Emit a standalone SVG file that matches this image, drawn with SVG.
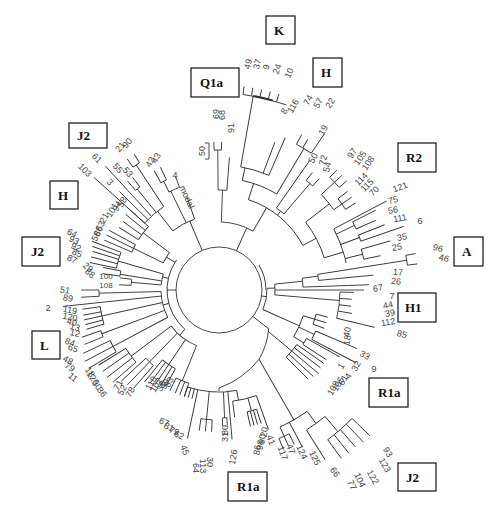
<svg xmlns="http://www.w3.org/2000/svg" width="500" height="522" viewBox="0 0 500 522">
<style>
.tr line,.tr circle,.tr path{stroke:#333;stroke-width:0.9;fill:none}
.lf{font-family:"Liberation Sans",Arial,sans-serif;font-size:9px;fill:#444;text-anchor:middle}
.bx rect{fill:#fff;stroke:#222;stroke-width:1.3}
.bx text{font-family:"Liberation Serif","Times New Roman",serif;font-weight:bold;font-size:13px;fill:#111}
</style>
<rect width="500" height="522" fill="#fff"/>
<g id="connectors" class="tr" transform="translate(219,290)">
<circle r="43"/>
<line x1="43" x2="68" transform="rotate(-66)"/>
<circle r="68" stroke-dasharray="33.23 3000" transform="rotate(-88)"/>
<line x1="68" x2="100" transform="rotate(-88)"/>
<circle r="100" stroke-dasharray="8.73 3000" transform="rotate(-90.5)"/>
<line x1="100" x2="140" transform="rotate(-90.5)"/>
<circle r="140" stroke-dasharray="7.33 3000" transform="rotate(-92)"/>
<line x1="140" x2="148" transform="rotate(-92)"/>
<line x1="140" x2="148" transform="rotate(-89)"/>
<line x1="100" x2="133" transform="rotate(-85.5)"/>
<line x1="68" x2="95" transform="rotate(-60)"/>
<circle r="95" stroke-dasharray="72.95 3000" transform="rotate(-72)"/>
<line x1="95" x2="112" transform="rotate(-72)"/>
<circle r="112" stroke-dasharray="37.14 3000" transform="rotate(-78)"/>
<line x1="112" x2="125" transform="rotate(-78)"/>
<circle r="125" stroke-dasharray="29.45 3000" transform="rotate(-80)"/>
<line x1="125" x2="197" transform="rotate(-80)"/>
<circle r="197" stroke-dasharray="44.7 3000" transform="rotate(-83)"/>
<circle r="197" stroke-dasharray="20 3000" transform="rotate(-80)" style="stroke-width:2"/>
<line x1="197" x2="205" transform="rotate(-83)"/>
<line x1="197" x2="205" transform="rotate(-80.5)"/>
<line x1="197" x2="205" transform="rotate(-78)"/>
<line x1="197" x2="205" transform="rotate(-75.5)"/>
<line x1="197" x2="205" transform="rotate(-73)"/>
<line x1="125" x2="158" transform="rotate(-69.3)"/>
<line x1="125" x2="166" transform="rotate(-66.5)"/>
<line x1="112" x2="165" transform="rotate(-59)"/>
<circle r="165" stroke-dasharray="17.28 3000" transform="rotate(-62)"/>
<line x1="165" x2="176" transform="rotate(-62)"/>
<line x1="165" x2="175" transform="rotate(-59.5)"/>
<line x1="165" x2="188" transform="rotate(-56)"/>
<line x1="95" x2="100" transform="rotate(-52)"/>
<circle r="100" stroke-dasharray="9.6 3000" transform="rotate(-55)"/>
<line x1="100" x2="158" transform="rotate(-55)"/>
<line x1="100" x2="140" transform="rotate(-49.5)"/>
<circle r="140" stroke-dasharray="8.55 3000" transform="rotate(-51.5)"/>
<line x1="140" x2="150" transform="rotate(-51.5)"/>
<line x1="140" x2="150" transform="rotate(-48)"/>
<line x1="95" x2="110" transform="rotate(-28)"/>
<circle r="110" stroke-dasharray="40.32 3000" transform="rotate(-38)"/>
<line x1="110" x2="140" transform="rotate(-38)"/>
<circle r="140" stroke-dasharray="19.55 3000" transform="rotate(-43)"/>
<line x1="140" x2="158" transform="rotate(-43)"/>
<circle r="158" stroke-dasharray="13.79 3000" transform="rotate(-45.5)"/>
<line x1="158" x2="168" transform="rotate(-45.5)"/>
<line x1="158" x2="168" transform="rotate(-43)"/>
<line x1="158" x2="168" transform="rotate(-40.5)"/>
<line x1="140" x2="150" transform="rotate(-35)"/>
<circle r="150" stroke-dasharray="13.09 3000" transform="rotate(-37.5)"/>
<line x1="150" x2="162" transform="rotate(-37.5)"/>
<line x1="150" x2="162" transform="rotate(-35)"/>
<line x1="150" x2="162" transform="rotate(-32.5)"/>
<line x1="110" x2="130" transform="rotate(-17)"/>
<circle r="130" stroke-dasharray="36.3 3000" transform="rotate(-28)"/>
<line x1="130" x2="190" transform="rotate(-28)"/>
<line x1="130" x2="150" transform="rotate(-25.5)"/>
<circle r="150" stroke-dasharray="7.85 3000" transform="rotate(-27)"/>
<line x1="150" x2="176" transform="rotate(-27)"/>
<line x1="150" x2="172" transform="rotate(-24)"/>
<line x1="130" x2="150" transform="rotate(-20.5)"/>
<circle r="150" stroke-dasharray="6.54 3000" transform="rotate(-21.5)"/>
<line x1="150" x2="178" transform="rotate(-21.5)"/>
<line x1="150" x2="195" transform="rotate(-19)"/>
<line x1="130" x2="148" transform="rotate(-14)"/>
<circle r="148" stroke-dasharray="10.33 3000" transform="rotate(-16)"/>
<line x1="148" x2="178" transform="rotate(-16)"/>
<line x1="148" x2="165" transform="rotate(-12)"/>
<circle r="47" stroke-dasharray="26.25 3000" transform="rotate(-32)"/>
<line x1="43" x2="48" transform="rotate(8)"/>
<circle r="48" stroke-dasharray="21.78 3000" transform="rotate(-2)"/>
<line x1="48" x2="56" transform="rotate(-2)"/>
<circle r="56" stroke-dasharray="10.75 3000" transform="rotate(-6)"/>
<line x1="56" x2="84" transform="rotate(-6)"/>
<circle r="84" stroke-dasharray="8.8 3000" transform="rotate(-8)"/>
<line x1="84" x2="150" transform="rotate(-2)"/>
<line x1="84" x2="100" transform="rotate(-8)"/>
<circle r="100" stroke-dasharray="6.11 3000" transform="rotate(-9)"/>
<line x1="100" x2="155" transform="rotate(-5.5)"/>
<line x1="100" x2="190" transform="rotate(-9)"/>
<circle r="190" stroke-dasharray="9.95 3000" transform="rotate(-10.5)"/>
<line x1="190" x2="200" transform="rotate(-10.5)"/>
<line x1="190" x2="200" transform="rotate(-7.5)"/>
<line x1="56" x2="145" transform="rotate(0)"/>
<line x1="56" x2="121" transform="rotate(5)"/>
<circle r="121" stroke-dasharray="26.4 3000" transform="rotate(1)"/>
<line x1="121" x2="135" transform="rotate(1)"/>
<line x1="121" x2="133" transform="rotate(4)"/>
<line x1="121" x2="133" transform="rotate(7)"/>
<line x1="121" x2="135" transform="rotate(10)"/>
<line x1="121" x2="160" transform="rotate(13.5)"/>
<line x1="48" x2="88" transform="rotate(24)"/>
<circle r="88" stroke-dasharray="23.04 3000" transform="rotate(17)"/>
<line x1="88" x2="100" transform="rotate(17)"/>
<circle r="100" stroke-dasharray="10.47 3000" transform="rotate(14)"/>
<line x1="100" x2="112" transform="rotate(14)"/>
<line x1="100" x2="112" transform="rotate(17)"/>
<line x1="100" x2="112" transform="rotate(20)"/>
<line x1="88" x2="105" transform="rotate(25)"/>
<circle r="105" stroke-dasharray="9.16 3000" transform="rotate(23)"/>
<line x1="105" x2="150" transform="rotate(23)"/>
<line x1="105" x2="155" transform="rotate(28)"/>
<line x1="88" x2="100" transform="rotate(32)"/>
<circle r="100" stroke-dasharray="6.98 3000" transform="rotate(29)"/>
<line x1="100" x2="138" transform="rotate(29)"/>
<line x1="100" x2="128" transform="rotate(33)"/>
<line x1="43" x2="63" transform="rotate(38)"/>
<path d="M49.65,38.79 A71,71 0 0 1 40,69.28 A89,89 0 0 1 0,98"/>
<line x1="64" x2="95" transform="rotate(40)"/>
<circle r="95" stroke-dasharray="16.58 3000" transform="rotate(35)"/>
<line x1="95" x2="128" transform="rotate(35)"/>
<line x1="95" x2="128" transform="rotate(37.5)"/>
<line x1="95" x2="130" transform="rotate(40)"/>
<line x1="95" x2="128" transform="rotate(42.5)"/>
<line x1="95" x2="126" transform="rotate(45)"/>
<line x1="80" x2="150" transform="rotate(60)"/>
<circle r="150" stroke-dasharray="31.42 3000" transform="rotate(54)"/>
<line x1="150" x2="160" transform="rotate(66)"/>
<circle r="160" stroke-dasharray="11.17 3000" transform="rotate(64)"/>
<line x1="160" x2="172" transform="rotate(64)"/>
<line x1="160" x2="170" transform="rotate(66)"/>
<line x1="160" x2="172" transform="rotate(68)"/>
<line x1="150" x2="178" transform="rotate(62)"/>
<line x1="150" x2="165" transform="rotate(54)"/>
<circle r="165" stroke-dasharray="23.04 3000" transform="rotate(50)"/>
<line x1="165" x2="200" transform="rotate(58)"/>
<line x1="165" x2="185" transform="rotate(50)"/>
<circle r="185" stroke-dasharray="32.29 3000" transform="rotate(44)"/>
<line x1="185" x2="208" transform="rotate(54)"/>
<line x1="185" x2="208" transform="rotate(51.5)"/>
<line x1="185" x2="208" transform="rotate(49)"/>
<line x1="185" x2="210" transform="rotate(46.5)"/>
<line x1="185" x2="210" transform="rotate(44)"/>
<line x1="98" x2="102" transform="rotate(90)"/>
<circle r="102" stroke-dasharray="49.85 3000" transform="rotate(80)"/>
<circle r="102" stroke-dasharray="9 3000" transform="rotate(86)" style="stroke:#aaa;stroke-width:2.2"/>
<line x1="102" x2="112" transform="rotate(80)"/>
<circle r="112" stroke-dasharray="24.43 3000" transform="rotate(70.5)"/>
<line x1="112" x2="128" transform="rotate(83)"/>
<line x1="112" x2="148" transform="rotate(70.5)"/>
<line x1="112" x2="125" transform="rotate(75)"/>
<circle r="125" stroke-dasharray="9.82 3000" transform="rotate(72.5)"/>
<line x1="125" x2="140" transform="rotate(72.5)"/>
<line x1="125" x2="140" transform="rotate(74)"/>
<line x1="125" x2="140" transform="rotate(75.5)"/>
<line x1="125" x2="140" transform="rotate(77)"/>
<line x1="102" x2="150" transform="rotate(85)"/>
<line x1="102" x2="128" transform="rotate(87.5)"/>
<circle r="128" stroke-dasharray="4.47 3000" transform="rotate(86.5)"/>
<line x1="128" x2="136" transform="rotate(86.5)"/>
<line x1="128" x2="136" transform="rotate(88.5)"/>
<line x1="102" x2="130" transform="rotate(95.5)"/>
<circle r="130" stroke-dasharray="11.34 3000" transform="rotate(93)"/>
<line x1="130" x2="142" transform="rotate(93)"/>
<line x1="130" x2="142" transform="rotate(95.5)"/>
<line x1="130" x2="142" transform="rotate(98)"/>
<line x1="102" x2="152" transform="rotate(102)"/>
<line x1="102" x2="112" transform="rotate(104)"/>
<line x1="102" x2="112" transform="rotate(106)"/>
<line x1="102" x2="112" transform="rotate(108)"/>
<line x1="43" x2="52" transform="rotate(180)"/>
<circle r="52" stroke-dasharray="76.24 3000" transform="rotate(131)"/>
<line x1="52" x2="60" transform="rotate(131)"/>
<circle r="60" stroke-dasharray="32.46 3000" transform="rotate(112)"/>
<line x1="60" x2="98" transform="rotate(112)"/>
<circle r="98" stroke-dasharray="13.68 3000" transform="rotate(108)"/>
<line x1="98" x2="112" transform="rotate(108)"/>
<line x1="98" x2="112" transform="rotate(110.5)"/>
<line x1="98" x2="112" transform="rotate(113)"/>
<line x1="98" x2="112" transform="rotate(116)"/>
<line x1="60" x2="90" transform="rotate(124)"/>
<circle r="90" stroke-dasharray="15.71 3000" transform="rotate(119)"/>
<line x1="90" x2="110" transform="rotate(119)"/>
<line x1="90" x2="112" transform="rotate(121.5)"/>
<line x1="90" x2="114" transform="rotate(124)"/>
<line x1="90" x2="116" transform="rotate(126.5)"/>
<line x1="90" x2="118" transform="rotate(129)"/>
<line x1="60" x2="100" transform="rotate(134)"/>
<circle r="100" stroke-dasharray="10.47 3000" transform="rotate(131)"/>
<line x1="100" x2="130" transform="rotate(131)"/>
<line x1="100" x2="132" transform="rotate(134)"/>
<line x1="100" x2="134" transform="rotate(137)"/>
<line x1="60" x2="110" transform="rotate(143)"/>
<circle r="110" stroke-dasharray="17.28 3000" transform="rotate(139)"/>
<line x1="110" x2="140" transform="rotate(139)"/>
<line x1="110" x2="142" transform="rotate(142)"/>
<line x1="110" x2="142" transform="rotate(145)"/>
<line x1="110" x2="142" transform="rotate(148)"/>
<line x1="52" x2="58" transform="rotate(165)"/>
<circle r="58" stroke-dasharray="26.83 3000" transform="rotate(152)"/>
<line x1="58" x2="120" transform="rotate(152)"/>
<circle r="120" stroke-dasharray="12.57 3000" transform="rotate(149)"/>
<line x1="120" x2="152" transform="rotate(149)"/>
<line x1="120" x2="152" transform="rotate(152)"/>
<line x1="120" x2="150" transform="rotate(155)"/>
<line x1="58" x2="125" transform="rotate(159.5)"/>
<circle r="125" stroke-dasharray="6.54 3000" transform="rotate(158)"/>
<line x1="125" x2="145" transform="rotate(158)"/>
<line x1="125" x2="145" transform="rotate(161)"/>
<line x1="58" x2="120" transform="rotate(167.5)"/>
<circle r="120" stroke-dasharray="17.8 3000" transform="rotate(163.5)"/>
<line x1="120" x2="138" transform="rotate(163.5)"/>
<line x1="120" x2="138" transform="rotate(165.5)"/>
<line x1="120" x2="138" transform="rotate(167.5)"/>
<line x1="120" x2="138" transform="rotate(169.5)"/>
<line x1="120" x2="138" transform="rotate(172)"/>
<line x1="58" x2="157" transform="rotate(174)"/>
<line x1="58" x2="120" transform="rotate(178.5)"/>
<circle r="120" stroke-dasharray="6.28 3000" transform="rotate(177)"/>
<line x1="120" x2="138" transform="rotate(177)"/>
<line x1="120" x2="138" transform="rotate(180)"/>
<line x1="52" x2="58" transform="rotate(193)"/>
<circle r="58" stroke-dasharray="11.14 3000" transform="rotate(185)"/>
<line x1="58" x2="88" transform="rotate(185)"/>
<circle r="88" stroke-dasharray="6.14 3000" transform="rotate(183)"/>
<line x1="88" x2="100" transform="rotate(183)"/>
<line x1="88" x2="100" transform="rotate(187)"/>
<line x1="58" x2="100" transform="rotate(189)"/>
<circle r="100" stroke-dasharray="5.24 3000" transform="rotate(188)"/>
<line x1="100" x2="118" transform="rotate(188)"/>
<line x1="100" x2="118" transform="rotate(191)"/>
<line x1="58" x2="105" transform="rotate(196)"/>
<circle r="105" stroke-dasharray="16.49 3000" transform="rotate(192)"/>
<line x1="105" x2="132" transform="rotate(192)"/>
<line x1="105" x2="132" transform="rotate(194.5)"/>
<line x1="105" x2="132" transform="rotate(197)"/>
<line x1="105" x2="134" transform="rotate(199)"/>
<line x1="105" x2="136" transform="rotate(201)"/>
<line x1="52" x2="62" transform="rotate(212)"/>
<circle r="62" stroke-dasharray="11.9 3000" transform="rotate(206)"/>
<line x1="62" x2="95" transform="rotate(206)"/>
<circle r="95" stroke-dasharray="8.29 3000" transform="rotate(203.5)"/>
<line x1="95" x2="125" transform="rotate(203.5)"/>
<line x1="95" x2="125" transform="rotate(206)"/>
<line x1="95" x2="125" transform="rotate(208.5)"/>
<line x1="62" x2="95" transform="rotate(217)"/>
<circle r="95" stroke-dasharray="16.58 3000" transform="rotate(212)"/>
<line x1="95" x2="118" transform="rotate(212)"/>
<line x1="95" x2="118" transform="rotate(215.5)"/>
<line x1="95" x2="120" transform="rotate(219)"/>
<line x1="95" x2="120" transform="rotate(222)"/>
<line x1="43" x2="75" transform="rotate(247)"/>
<circle r="75" stroke-dasharray="24.87 3000" transform="rotate(232)"/>
<line x1="75" x2="98" transform="rotate(251)"/>
<line x1="75" x2="110" transform="rotate(244)"/>
<circle r="110" stroke-dasharray="11.52 3000" transform="rotate(243)"/>
<line x1="110" x2="122" transform="rotate(249)"/>
<line x1="110" x2="122" transform="rotate(243)"/>
<circle r="122" stroke-dasharray="6.39 3000" transform="rotate(241.5)"/>
<line x1="122" x2="136" transform="rotate(241.5)"/>
<line x1="122" x2="136" transform="rotate(244.5)"/>
<line x1="75" x2="100" transform="rotate(232)"/>
<circle r="100" stroke-dasharray="25.31 3000" transform="rotate(222)"/>
<line x1="100" x2="150" transform="rotate(236.5)"/>
<circle r="150" stroke-dasharray="7.85 3000" transform="rotate(235)"/>
<line x1="150" x2="160" transform="rotate(235)"/>
<line x1="150" x2="160" transform="rotate(238)"/>
<line x1="100" x2="130" transform="rotate(231)"/>
<circle r="130" stroke-dasharray="5.67 3000" transform="rotate(230)"/>
<line x1="130" x2="142" transform="rotate(230)"/>
<line x1="130" x2="142" transform="rotate(232.5)"/>
<line x1="100" x2="168" transform="rotate(227.5)"/>
<line x1="100" x2="140" transform="rotate(224.7)"/>
<line x1="100" x2="168" transform="rotate(222)"/>
</g>
<g id="scale-bar">
<path d="M205,143 H209 V159 H205" fill="none" stroke="#333" stroke-width="0.9"/>
<text class="lf" x="202" y="151" dy="0.35em" transform="rotate(-90 202 151)">50</text>
</g>
<g id="leaf-labels" class="lf">
<text x="216" y="114" dy="0.35em" transform="rotate(-90 216 114)">69</text>
<text x="222" y="115" dy="0.35em" transform="rotate(-90 222 115)">68</text>
<text x="231" y="128" dy="0.35em" transform="rotate(-90 231 128)">91</text>
<text x="248" y="64" dy="0.35em" transform="rotate(-75 248 64)">49</text>
<text x="257" y="64" dy="0.35em" transform="rotate(-75 257 64)">37</text>
<text x="266" y="67" dy="0.35em" transform="rotate(-75 266 67)">9</text>
<text x="277" y="69" dy="0.35em" transform="rotate(-70 277 69)">24</text>
<text x="289" y="73" dy="0.35em" transform="rotate(-65 289 73)">10</text>
<text x="284" y="111" dy="0.35em" transform="rotate(-60 284 111)">8</text>
<text x="293" y="106" dy="0.35em" transform="rotate(-60 293 106)">116</text>
<text x="308" y="100" dy="0.35em" transform="rotate(-60 308 100)">74</text>
<text x="318" y="103" dy="0.35em" transform="rotate(-60 318 103)">57</text>
<text x="330" y="103" dy="0.35em" transform="rotate(-60 330 103)">22</text>
<text x="323" y="130" dy="0.35em" transform="rotate(-60 323 130)">19</text>
<text x="313" y="158" dy="0.35em" transform="rotate(-60 313 158)">50</text>
<text x="323" y="160" dy="0.35em" transform="rotate(-75 323 160)">72</text>
<text x="327" y="167" dy="0.35em" transform="rotate(-75 327 167)">54</text>
<text x="352" y="153" dy="0.35em" transform="rotate(-55 352 153)">97</text>
<text x="360" y="158" dy="0.35em" transform="rotate(-55 360 158)">105</text>
<text x="368" y="163" dy="0.35em" transform="rotate(-55 368 163)">108</text>
<text x="361" y="179" dy="0.35em" transform="rotate(-45 361 179)">114</text>
<text x="367" y="185" dy="0.35em" transform="rotate(-45 367 185)">115</text>
<text x="374" y="191" dy="0.35em" transform="rotate(-45 374 191)">70</text>
<text x="400" y="187" dy="0.35em" transform="rotate(-20 400 187)">121</text>
<text x="393" y="200" dy="0.35em" transform="rotate(-15 393 200)">75</text>
<text x="393" y="210" dy="0.35em" transform="rotate(-10 393 210)">56</text>
<text x="400" y="218" dy="0.35em" transform="rotate(-10 400 218)">111</text>
<text x="420" y="221" dy="0.35em">6</text>
<text x="402" y="237" dy="0.35em" transform="rotate(-10 402 237)">35</text>
<text x="397" y="247" dy="0.35em" transform="rotate(-10 397 247)">25</text>
<text x="438" y="248" dy="0.35em" transform="rotate(15 438 248)">96</text>
<text x="444" y="258" dy="0.35em" transform="rotate(15 444 258)">46</text>
<text x="398" y="272" dy="0.35em" transform="rotate(5 398 272)">17</text>
<text x="396" y="281" dy="0.35em" transform="rotate(5 396 281)">26</text>
<text x="378" y="288" dy="0.35em" transform="rotate(-10 378 288)">67</text>
<text x="392" y="296" dy="0.35em">7</text>
<text x="388" y="305" dy="0.35em" transform="rotate(-10 388 305)">44</text>
<text x="390" y="313" dy="0.35em" transform="rotate(-10 390 313)">39</text>
<text x="388" y="322" dy="0.35em" transform="rotate(-10 388 322)">112</text>
<text x="402" y="334" dy="0.35em" transform="rotate(15 402 334)">85</text>
<text x="347" y="332" dy="0.35em" transform="rotate(-80 347 332)">40</text>
<text x="347" y="340" dy="0.35em" transform="rotate(-80 347 340)">18</text>
<text x="365" y="355" dy="0.35em" transform="rotate(30 365 355)">33</text>
<text x="374" y="369" dy="0.35em">9</text>
<text x="341" y="366" dy="0.35em" transform="rotate(-60 341 366)">1</text>
<text x="356" y="366" dy="0.35em" transform="rotate(-60 356 366)">32</text>
<text x="333" y="388" dy="0.35em" transform="rotate(-60 333 388)">108</text>
<text x="338" y="384" dy="0.35em" transform="rotate(-60 338 384)">105</text>
<text x="343" y="380" dy="0.35em" transform="rotate(-60 343 380)">61</text>
<text x="348" y="376" dy="0.35em" transform="rotate(-60 348 376)">4</text>
<text x="388" y="452" dy="0.35em" transform="rotate(60 388 452)">93</text>
<text x="385" y="465" dy="0.35em" transform="rotate(60 385 465)">123</text>
<text x="373" y="477" dy="0.35em" transform="rotate(60 373 477)">122</text>
<text x="360" y="480" dy="0.35em" transform="rotate(65 360 480)">104</text>
<text x="352" y="485" dy="0.35em" transform="rotate(65 352 485)">77</text>
<text x="335" y="472" dy="0.35em" transform="rotate(55 335 472)">66</text>
<text x="315" y="458" dy="0.35em" transform="rotate(65 315 458)">125</text>
<text x="302" y="452" dy="0.35em" transform="rotate(65 302 452)">124</text>
<text x="291" y="449" dy="0.35em" transform="rotate(70 291 449)">47</text>
<text x="283" y="453" dy="0.35em" transform="rotate(70 283 453)">117</text>
<text x="271" y="440" dy="0.35em" transform="rotate(70 271 440)">41</text>
<text x="264" y="432" dy="0.35em" transform="rotate(-80 264 432)">20</text>
<text x="262" y="439" dy="0.35em" transform="rotate(-80 262 439)">90</text>
<text x="260" y="445" dy="0.35em" transform="rotate(-80 260 445)">96</text>
<text x="257" y="450" dy="0.35em" transform="rotate(-80 257 450)">86</text>
<text x="233" y="457" dy="0.35em" transform="rotate(-80 233 457)">126</text>
<text x="225" y="430" dy="0.35em" transform="rotate(-90 225 430)">80</text>
<text x="225" y="437" dy="0.35em" transform="rotate(-90 225 437)">31</text>
<text x="210" y="462" dy="0.35em" transform="rotate(90 210 462)">30</text>
<text x="203" y="466" dy="0.35em" transform="rotate(90 203 466)">113</text>
<text x="196" y="468" dy="0.35em" transform="rotate(90 196 468)">64</text>
<text x="185" y="450" dy="0.35em" transform="rotate(70 185 450)">45</text>
<text x="164" y="422" dy="0.35em" transform="rotate(25 164 422)">67</text>
<text x="169" y="427" dy="0.35em" transform="rotate(25 169 427)">81</text>
<text x="174" y="431" dy="0.35em" transform="rotate(25 174 431)">79</text>
<text x="179" y="435" dy="0.35em" transform="rotate(25 179 435)">62</text>
<text x="151" y="383" dy="0.35em" transform="rotate(-60 151 383)">110</text>
<text x="156" y="385" dy="0.35em" transform="rotate(-60 156 385)">102</text>
<text x="161" y="386" dy="0.35em" transform="rotate(-60 161 386)">38</text>
<text x="165" y="384" dy="0.35em" transform="rotate(-60 165 384)">99</text>
<text x="169" y="382" dy="0.35em" transform="rotate(-60 169 382)">83</text>
<text x="118" y="385" dy="0.35em" transform="rotate(-60 118 385)">71</text>
<text x="122" y="390" dy="0.35em" transform="rotate(-60 122 390)">52</text>
<text x="130" y="392" dy="0.35em" transform="rotate(-60 130 392)">78</text>
<text x="90" y="372" dy="0.35em" transform="rotate(55 90 372)">18</text>
<text x="93" y="378" dy="0.35em" transform="rotate(55 93 378)">126</text>
<text x="97" y="385" dy="0.35em" transform="rotate(55 97 385)">30</text>
<text x="102" y="392" dy="0.35em" transform="rotate(55 102 392)">36</text>
<text x="68" y="360" dy="0.35em" transform="rotate(30 68 360)">48</text>
<text x="70" y="367" dy="0.35em" transform="rotate(35 70 367)">79</text>
<text x="73" y="377" dy="0.35em" transform="rotate(40 73 377)">11</text>
<text x="70" y="342" dy="0.35em" transform="rotate(20 70 342)">84</text>
<text x="73" y="348" dy="0.35em" transform="rotate(20 73 348)">65</text>
<text x="70" y="310" dy="0.35em" transform="rotate(10 70 310)">119</text>
<text x="70" y="317" dy="0.35em" transform="rotate(12 70 317)">120</text>
<text x="72" y="322" dy="0.35em" transform="rotate(14 72 322)">40</text>
<text x="75" y="327" dy="0.35em" transform="rotate(15 75 327)">13</text>
<text x="75" y="333" dy="0.35em" transform="rotate(15 75 333)">12</text>
<text x="48" y="308" dy="0.35em">2</text>
<text x="65" y="290" dy="0.35em" transform="rotate(10 65 290)">51</text>
<text x="68" y="298" dy="0.35em" transform="rotate(10 68 298)">89</text>
<text x="72" y="233" dy="0.35em" transform="rotate(25 72 233)">64</text>
<text x="74" y="240" dy="0.35em" transform="rotate(25 74 240)">93</text>
<text x="76" y="247" dy="0.35em" transform="rotate(25 76 247)">92</text>
<text x="77" y="253" dy="0.35em" transform="rotate(25 77 253)">85</text>
<text x="72" y="259" dy="0.35em" transform="rotate(25 72 259)">87</text>
<text x="88" y="267" dy="0.35em" transform="rotate(40 88 267)">29</text>
<text x="90" y="273" dy="0.35em" transform="rotate(40 90 273)">88</text>
<text x="106" y="276" dy="0.35em" style="font-size:8px">100</text>
<text x="106" y="285" dy="0.35em" style="font-size:8px">108</text>
<text x="104" y="218" dy="0.35em" transform="rotate(-60 104 218)">21</text>
<text x="112" y="210" dy="0.35em" transform="rotate(-60 112 210)">101</text>
<text x="117" y="206" dy="0.35em" transform="rotate(-60 117 206)">94</text>
<text x="122" y="202" dy="0.35em" transform="rotate(-60 122 202)">58</text>
<text x="100" y="226" dy="0.35em" transform="rotate(-60 100 226)">63</text>
<text x="98" y="231" dy="0.35em" transform="rotate(-60 98 231)">86</text>
<text x="96" y="236" dy="0.35em" transform="rotate(-60 96 236)">56</text>
<text x="97" y="158" dy="0.35em" transform="rotate(45 97 158)">61</text>
<text x="85" y="170" dy="0.35em" transform="rotate(45 85 170)">103</text>
<text x="110" y="182" dy="0.35em" transform="rotate(45 110 182)">3</text>
<text x="118" y="168" dy="0.35em" transform="rotate(50 118 168)">55</text>
<text x="128" y="172" dy="0.35em" transform="rotate(50 128 172)">53</text>
<text x="127" y="143" dy="0.35em" transform="rotate(-50 127 143)">90</text>
<text x="120" y="147" dy="0.35em" transform="rotate(-50 120 147)">21</text>
<text x="150" y="162" dy="0.35em" transform="rotate(-60 150 162)">42</text>
<text x="156" y="158" dy="0.35em" transform="rotate(-60 156 158)">43</text>
<text x="175" y="175" dy="0.35em">4</text>
<text x="187" y="197" dy="0.35em" transform="rotate(65 187 197)">modal</text>
</g>
<g id="box-K" class="bx"><rect x="266" y="16" width="29" height="28"/><text x="274" y="35">K</text></g>
<g id="box-H-top" class="bx"><rect x="313" y="58" width="29" height="29"/><text x="321" y="77">H</text></g>
<g id="box-Q1a" class="bx"><rect x="191" y="68" width="48" height="29"/><text x="200" y="87">Q1a</text></g>
<g id="box-J2-topleft" class="bx"><rect x="69" y="123" width="38" height="25"/><text x="77" y="140">J2</text></g>
<g id="box-H-left" class="bx"><rect x="50" y="181" width="28" height="28"/><text x="58" y="200">H</text></g>
<g id="box-J2-left" class="bx"><rect x="22" y="237" width="38" height="29"/><text x="31" y="256">J2</text></g>
<g id="box-L" class="bx"><rect x="32" y="331" width="28" height="28"/><text x="40" y="350">L</text></g>
<g id="box-R1a-bottom" class="bx"><rect x="228" y="472" width="39" height="29"/><text x="237" y="491">R1a</text></g>
<g id="box-J2-bottomright" class="bx"><rect x="398" y="463" width="38" height="28"/><text x="406" y="482">J2</text></g>
<g id="box-R1a-right" class="bx"><rect x="369" y="378" width="39" height="29"/><text x="378" y="397">R1a</text></g>
<g id="box-H1" class="bx"><rect x="398" y="293" width="38" height="29"/><text x="405" y="312">H1</text></g>
<g id="box-A" class="bx"><rect x="454" y="237" width="29" height="29"/><text x="462" y="256">A</text></g>
<g id="box-R2" class="bx"><rect x="398" y="143" width="38" height="29"/><text x="406" y="162">R2</text></g>
</svg>
